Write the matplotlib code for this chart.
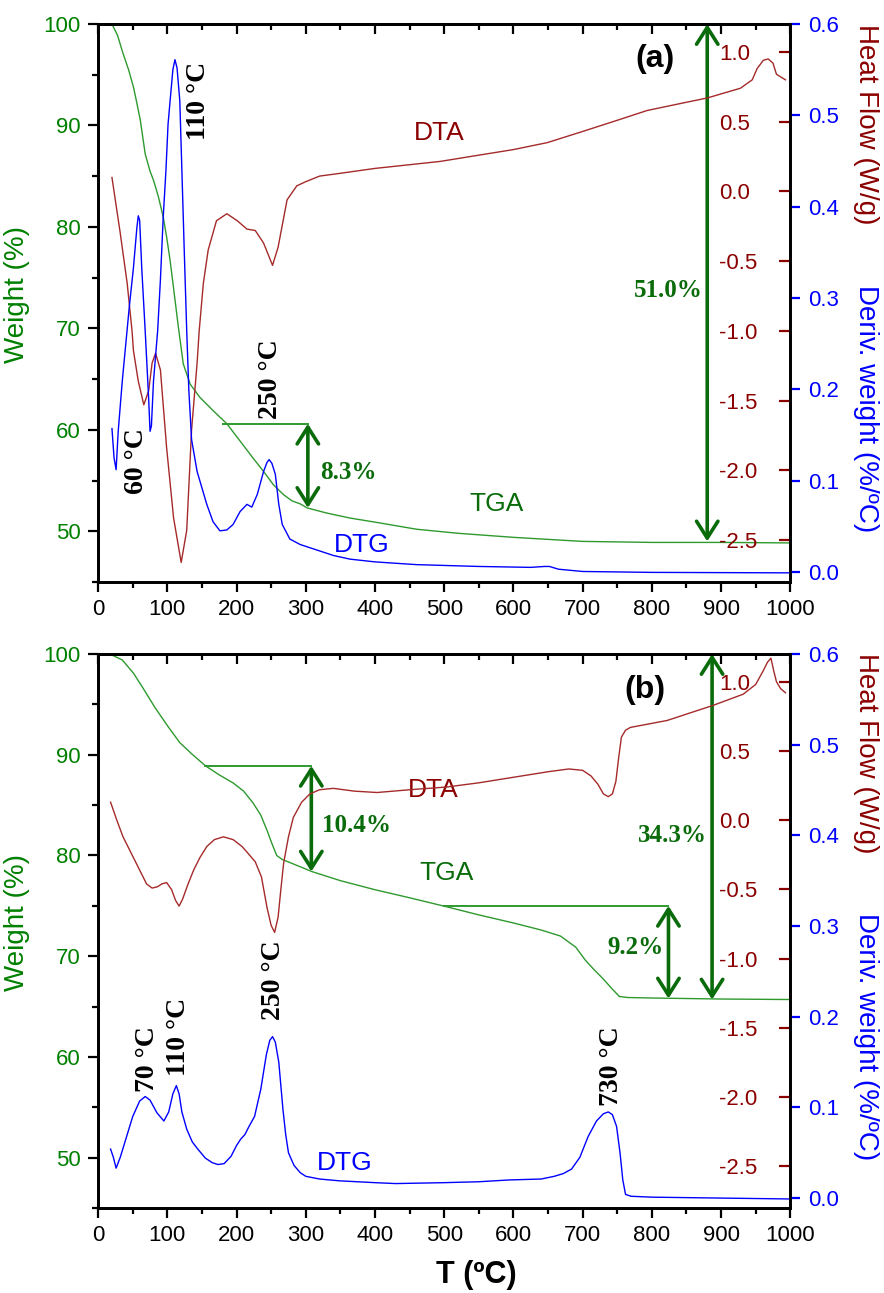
import numpy as np
import matplotlib
matplotlib.use('Agg')
import matplotlib.pyplot as plt
from matplotlib.ticker import MultipleLocator

# --- Dados (a) ---
tga_a_T = [20, 28, 36, 44, 51, 56, 61, 68, 75, 80, 87, 94, 99, 104, 110, 116, 123, 133, 147, 166, 186,
           205, 224, 239, 253, 268, 280, 292, 302, 330, 364, 400, 460, 520, 600, 650, 700, 800, 900, 1000]
tga_a_W = [100, 98.9, 97.1, 95.5, 93.8, 92.2, 90.5, 87.2, 85.5, 84.6, 83.0, 81.0, 79.0, 76.7, 73.4, 70.1,
           66.5, 64.5, 63.2, 61.9, 60.6, 58.9, 57.2, 55.9, 54.6, 53.6, 53.0, 52.7, 52.3, 51.8, 51.3, 50.9,
           50.2, 49.8, 49.4, 49.2, 49.0, 48.9, 48.9, 48.85]

dtg_a_T = [20, 23, 26, 29, 35, 40, 45, 51, 56, 58, 60, 63, 68, 73, 75, 77, 80, 86, 90, 94, 98, 101, 104,
           108, 111, 114, 118, 121, 124.5, 128, 131, 135, 143, 157, 166, 176, 186, 195, 205, 215, 222, 230,
           239, 244, 247, 251, 256, 261, 266, 277, 292, 316, 340, 364, 400, 460, 550, 625, 645, 652, 665,
           700, 800, 1000]
dtg_a_D = [0.157, 0.125, 0.112, 0.154, 0.21, 0.25, 0.29, 0.333, 0.377, 0.390, 0.385, 0.333, 0.264, 0.19,
           0.154, 0.16, 0.209, 0.264, 0.32, 0.388, 0.44, 0.49, 0.516, 0.55, 0.561, 0.552, 0.516, 0.44,
           0.35, 0.264, 0.20, 0.145, 0.11, 0.074, 0.055, 0.045, 0.046, 0.052, 0.066, 0.074, 0.071, 0.085,
           0.11, 0.12, 0.123, 0.119, 0.107, 0.074, 0.052, 0.036, 0.030, 0.024, 0.018, 0.014, 0.011, 0.008,
           0.006, 0.005, 0.006, 0.006, 0.003, 0.0005, -0.0005, -0.001]

dta_a_T = [20, 32, 42, 49, 51, 58, 66, 73, 78, 83, 90, 99, 109, 120, 128, 135, 143, 146, 152, 159, 171,
           186, 201, 215, 227, 239, 252, 260, 273, 287, 300, 320, 350, 400, 494, 550, 600, 649, 700, 750,
           793, 841, 880, 928, 945, 952, 961, 968, 975, 980, 993]
dta_a_H = [0.10, -0.30, -0.66, -1.0, -1.14, -1.36, -1.53, -1.43, -1.23, -1.16, -1.28, -1.84, -2.34, -2.66,
           -2.43, -1.71, -1.23, -1.0, -0.66, -0.42, -0.21, -0.16, -0.21, -0.27, -0.28, -0.37, -0.53, -0.40,
           -0.06, 0.04, 0.07, 0.11, 0.13, 0.165, 0.215, 0.26, 0.30, 0.35, 0.43, 0.51, 0.58, 0.63, 0.67,
           0.74, 0.80, 0.88, 0.94, 0.95, 0.92, 0.84, 0.80]

# --- Dados (b) ---
tga_b_T = [20, 35, 51, 65, 82, 101, 118, 135, 155, 175, 195, 210, 224, 235, 244, 251, 258, 266, 277, 309,
           350, 400, 450, 504, 550, 600, 640, 668, 690, 704, 716, 729, 742, 753, 765, 800, 900, 1000]
tga_b_W = [99.9, 99.4, 98.1, 96.6, 94.7, 92.8, 91.2, 90.1, 88.9, 88.0, 87.2, 86.4, 85.2, 84.0, 82.5, 81.2,
           80.0, 79.6, 79.3, 78.4, 77.5, 76.6, 75.8, 74.9, 74.1, 73.3, 72.6, 72.0, 70.9, 69.6, 68.7, 67.8,
           66.8, 66.0, 65.9, 65.85, 65.75, 65.7]

dtg_b_T = [18, 22, 26, 32, 40, 50, 60, 68, 75, 85, 95, 102, 108, 113, 117, 121, 128, 136, 144, 155, 165,
           173, 182, 192, 200, 206, 212, 218, 226, 235, 243, 248, 252, 256, 261, 267, 271, 275, 283, 292,
           300, 320, 349, 400, 430, 500, 550, 594, 640, 659, 672, 684, 696, 708, 720, 730, 737, 743, 749,
           754, 758, 762, 770, 800, 900, 1000]
dtg_b_D = [0.054, 0.045, 0.033, 0.045, 0.065, 0.09, 0.107, 0.112, 0.108, 0.094, 0.085, 0.095, 0.115, 0.124,
           0.115, 0.095, 0.076, 0.062, 0.054, 0.044, 0.039, 0.037, 0.038, 0.046, 0.058, 0.065, 0.070, 0.079,
           0.090, 0.120, 0.158, 0.174, 0.178, 0.172, 0.150, 0.098, 0.070, 0.050, 0.036, 0.028, 0.024, 0.021,
           0.019, 0.017, 0.016, 0.017, 0.018, 0.020, 0.021, 0.024, 0.027, 0.032, 0.045, 0.068, 0.085, 0.093,
           0.095, 0.092, 0.079, 0.050, 0.020, 0.004, 0.002, 0.001, 0.0, -0.001]

dta_b_T = [18, 27, 36, 51, 62, 70, 78, 86, 92, 99, 106, 112, 117, 122, 130, 138, 147, 157, 168, 181, 195,
           208, 215, 227, 236, 244, 250, 255, 260, 264, 268, 275, 282, 294, 306, 320, 340, 370, 403, 450,
           504, 550, 600, 650, 680, 700, 712, 722, 730, 737, 743, 748, 752, 756, 762, 769, 822, 889, 932,
           950, 961, 967, 972, 976, 980, 986, 993]
dta_b_H = [0.13, 0.0, -0.12, -0.27, -0.38, -0.46, -0.49, -0.48, -0.46, -0.45, -0.50, -0.58, -0.62, -0.57,
           -0.46, -0.36, -0.27, -0.19, -0.14, -0.12, -0.14, -0.19, -0.23, -0.30, -0.41, -0.63, -0.76, -0.81,
           -0.70, -0.50, -0.31, -0.12, 0.02, 0.13, 0.19, 0.22, 0.23, 0.21, 0.20, 0.22, 0.24, 0.27, 0.31,
           0.35, 0.37, 0.36, 0.32, 0.26, 0.19, 0.17, 0.19, 0.28, 0.45, 0.60, 0.65, 0.67, 0.72, 0.83, 0.91,
           0.98, 1.08, 1.14, 1.17, 1.08, 1.00, 0.95, 0.92]

# --- Anotações: picos de DTG e perdas de massa ---
picos_a = ["110 °C", "60 °C", "250 °C"]
picos_a_T = [145, 56, 249]
picos_a_W = [92.4, 56.9, 65.0]
picos_b = ["70 °C", "110 °C", "250 °C", "730 °C"]
picos_b_T = [71, 116, 254, 741]
picos_b_W = [59.8, 62.0, 67.6, 59.1]

# (T da seta, W inicial, W final, T inicio da linha base, texto)
perdas_a = [(303, 60.6, 52.3, 180, "8.3%"), (880, 100.0, 49.0, None, "51.0%")]
perdas_b = [(308, 88.9, 78.4, 155, "10.4%"), (824, 75.0, 65.8, 499, "9.2%"), (887, 100.0, 65.7, None, "34.3%")]
texto_perdas_a = [(321, 55.8, 'left'), (874, 73.7, 'right')]
texto_perdas_b = [(324, 83.0, 'left'), (736, 70.9, 'left'), (880, 82.0, 'right')]

VERDE = '#008000'
VERDE_ESC = '#0a6b0a'
VERDE_CURVA = '#2e9a2e'
VERMELHO = '#8b0000'
VERM_CURVA = '#a52a2a'
AZUL = '#0000ff'

plt.rcParams['font.family'] = ['Liberation Sans', 'DejaVu Sans']
SERIF = ['Liberation Serif', 'DejaVu Serif']

fig = plt.figure(figsize=(8.84, 12.93), dpi=100)


def painel(pos, tga, dtg, dta, picos, perdas, txt_perdas, letra, rotulos, xlabel=False):
    ax = fig.add_axes(pos)
    ax_hf = ax.twinx()
    ax_d = ax.twinx()

    ax.plot(tga[0], tga[1], color=VERDE_CURVA, lw=1.0)
    ax_hf.plot(dta[0], dta[1], color=VERM_CURVA, lw=1.0)
    ax_d.plot(dtg[0], dtg[1], color=AZUL, lw=1.0)

    ax.set_xlim(0, 1000); ax.set_ylim(45, 100)
    ax_hf.set_ylim(-2.8, 1.2); ax_d.set_ylim(-0.011, 0.6)

    ax.xaxis.set_major_locator(MultipleLocator(100)); ax.xaxis.set_minor_locator(MultipleLocator(50))
    ax.yaxis.set_major_locator(MultipleLocator(10)); ax.yaxis.set_minor_locator(MultipleLocator(5))
    ax.set_yticks([50, 60, 70, 80, 90, 100])
    ax_hf.set_yticks([-2.5, -2.0, -1.5, -1.0, -0.5, 0.0, 0.5, 1.0])
    ax_hf.set_yticklabels(['-2.5', '-2.0', '-1.5', '-1.0', '-0.5', '0.0', '0.5', '1.0'])
    ax_d.set_yticks([0.0, 0.1, 0.2, 0.3, 0.4, 0.5, 0.6])
    ax_d.set_yticklabels(['0.0', '0.1', '0.2', '0.3', '0.4', '0.5', '0.6'])

    for a in (ax, ax_hf, ax_d):
        for s in a.spines.values():
            s.set_linewidth(1.8)
    ax.tick_params(axis='both', which='major', direction='out', length=7.5, width=1.6, labelsize=16)
    ax.tick_params(axis='both', which='minor', direction='out', length=4, width=1.6)
    ax.tick_params(axis='y', which='major', labelcolor=VERDE, pad=5)
    ax.tick_params(axis='x', which='major', pad=5)
    topo = ax.secondary_xaxis('top')
    topo.xaxis.set_major_locator(MultipleLocator(100)); topo.xaxis.set_minor_locator(MultipleLocator(50))
    topo.tick_params(which='major', direction='in', length=7.5, width=1.6, labeltop=False)
    topo.tick_params(which='minor', direction='in', length=4, width=1.6)
    topo.spines['top'].set_linewidth(1.8)

    # rótulos do fluxo de calor ficam dentro do gráfico, alinhados à esquerda
    ax_hf.tick_params(axis='y', direction='in', length=8, width=1.6, color=VERMELHO,
                      labelcolor=VERMELHO, labelsize=16, pad=-51)
    ax_d.tick_params(axis='y', direction='out', length=7, width=1.6, color=AZUL,
                     labelcolor=AZUL, labelsize=16, pad=6)

    ax.set_ylabel('Weight (%)', color=VERDE, fontsize=20)
    ax.yaxis.set_label_coords(-0.098, 0.515)
    ax_hf.set_ylabel('Heat Flow (W/g)', color=VERMELHO, fontsize=20, rotation=270, va='center')
    ax_hf.yaxis.set_label_coords(1.11, 0.82)
    ax_d.set_ylabel('Deriv. weight (%/ºC)', color=AZUL, fontsize=20, rotation=270, va='center')
    ax_d.yaxis.set_label_coords(1.11, 0.31)
    if xlabel:
        ax.set_xlabel('T (ºC)', fontsize=22, fontweight='bold')
        ax.xaxis.set_label_coords(0.546, -0.094)

    # rótulos das curvas e da letra do painel
    ax.text(letra[0], letra[1], letra[2], fontsize=23, fontweight='bold', ha='center', va='center')
    for (tx, ty, s, c) in rotulos:
        ax.text(tx, ty, s, color=c, fontsize=19, ha='center', va='center')

    for s, tx, ty in zip(*picos):
        ax.text(tx, ty, s, rotation=90, fontsize=20, fontweight='bold', family=SERIF,
                ha='center', va='center')

    for (tq, w0, w1, tb, s), (tx, ty, ha) in zip(perdas, txt_perdas):
        if tb is not None:
            ax.plot([tb, tq], [w0, w0], color=VERDE_CURVA, lw=1.4)
        ax.annotate('', xy=(tq, w1), xytext=(tq, w0),
                    arrowprops=dict(arrowstyle='<->,head_length=0.55,head_width=0.35', color=VERDE_ESC,
                                    lw=2.6, mutation_scale=22, shrinkA=0, shrinkB=0))
        ax.text(tx, ty, s, color=VERDE_ESC, fontsize=18, fontweight='bold', family=SERIF,
                ha=ha, va='center')
    return ax


painel([0.111, 0.5499, 0.783, 0.4315],
       (tga_a_T, tga_a_W), (dtg_a_T, dtg_a_D), (dta_a_T, dta_a_H),
       (picos_a, picos_a_T, picos_a_W), perdas_a, texto_perdas_a,
       (805, 96.6, '(a)'),
       [(493, 89.3, 'DTA', VERMELHO), (575, 52.7, 'TGA', VERDE_ESC), (381, 48.6, 'DTG', AZUL)])

painel([0.111, 0.0657, 0.783, 0.4285],
       (tga_b_T, tga_b_W), (dtg_b_T, dtg_b_D), (dta_b_T, dta_b_H),
       (picos_b, picos_b_T, picos_b_W), perdas_b, texto_perdas_b,
       (790, 96.4, '(b)'),
       [(484, 86.5, 'DTA', VERMELHO), (504, 78.3, 'TGA', VERDE_ESC), (357, 49.5, 'DTG', AZUL)],
       xlabel=True)

fig.savefig('out.png', dpi=100)
